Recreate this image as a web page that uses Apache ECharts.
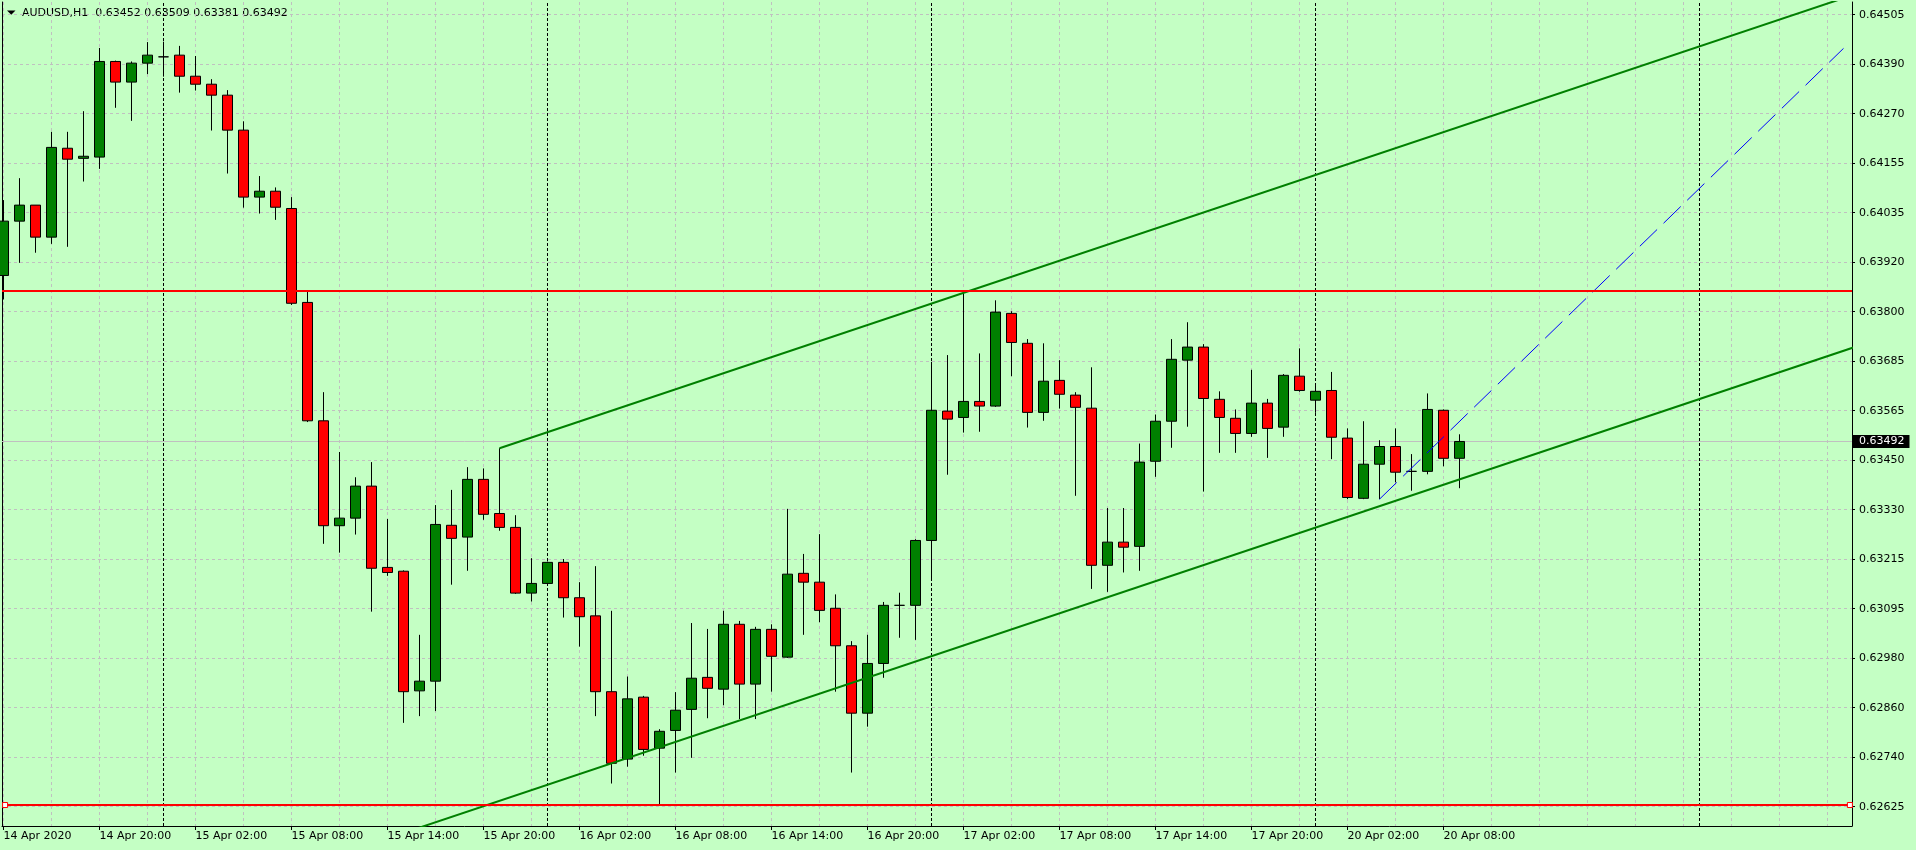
<!DOCTYPE html>
<html>
<head>
<meta charset="utf-8">
<script src="https://cdn.jsdelivr.net/npm/echarts@6/dist/echarts.min.js"></script>
<style>
html,body{margin:0;padding:0;background:#C4FFC4;}
#c{width:1916px;height:850px;}
</style>
</head>
<body>
<div id="c"></div>
<script>
// ---------------- data (H1 bars, index 0 = 14 Apr 2020 14:00) ----------------
const symbolName = 'AUDUSD,H1';
const open  = [0.63886,0.64015,0.64053,0.63977,0.64188,0.64164,0.64167,0.64394,0.64345,0.64390,
               0.64405,0.64409,0.64359,0.64340,0.64314,0.64231,0.64072,0.64086,0.64045,0.63822,
               0.63541,0.63292,0.63310,0.63386,0.63193,0.63184,0.62900,0.62923,0.63293,0.63265,
               0.63402,0.63321,0.63288,0.63132,0.63155,0.63205,0.63121,0.63078,0.62898,0.62738,
               0.62885,0.62764,0.62806,0.62856,0.62932,0.62904,0.63058,0.62916,0.63046,0.62980,
               0.63179,0.63158,0.63096,0.63007,0.62847,0.62965,0.63103,0.63103,0.63257,0.63564,
               0.63549,0.63587,0.63576,0.63796,0.63725,0.63561,0.63637,0.63602,0.63571,0.63198,
               0.63253,0.63243,0.63445,0.63540,0.63685,0.63716,0.63592,0.63547,0.63511,0.63583,
               0.63526,0.63647,0.63590,0.63613,0.63500,0.63357,0.63438,0.63480,0.63421,0.63421,
               0.63566,0.63452];
const high  = [0.64065,0.64117,0.64053,0.64227,0.64227,0.64276,0.64426,0.64396,0.64394,0.64440,
               0.64441,0.64431,0.64407,0.64352,0.64326,0.64252,0.64122,0.64095,0.64072,0.63848,
               0.63609,0.63467,0.63407,0.63443,0.63308,0.63186,0.63033,0.63341,0.63377,0.63431,
               0.63428,0.63476,0.63317,0.63215,0.63207,0.63213,0.63158,0.63196,0.63090,0.62934,
               0.62888,0.62809,0.62897,0.63061,0.63047,0.63090,0.63066,0.63052,0.63058,0.63332,
               0.63225,0.63272,0.63129,0.63018,0.63033,0.63111,0.63133,0.63260,0.63681,0.63697,
               0.63849,0.63701,0.63827,0.63801,0.63735,0.63725,0.63685,0.63609,0.63668,0.63334,
               0.63334,0.63487,0.63556,0.63735,0.63775,0.63723,0.63611,0.63568,0.63662,0.63593,
               0.63652,0.63713,0.63624,0.63657,0.63523,0.63540,0.63495,0.63523,0.63462,0.63606,
               0.63568,0.63509];
const low   = [0.63829,0.63916,0.63940,0.63961,0.63954,0.64109,0.64139,0.64284,0.64253,0.64364,
               0.64358,0.64320,0.64325,0.64230,0.64128,0.64047,0.64033,0.64018,0.63816,0.63538,
               0.63249,0.63228,0.63271,0.63088,0.63173,0.62824,0.62840,0.62852,0.63152,0.63185,
               0.63306,0.63280,0.63130,0.63112,0.63150,0.63074,0.63005,0.62840,0.62680,0.62720,
               0.62746,0.62629,0.62706,0.62741,0.62835,0.62866,0.62833,0.62833,0.62898,0.62978,
               0.63033,0.63063,0.62898,0.62706,0.62815,0.62931,0.63026,0.63021,0.63162,0.63413,
               0.63513,0.63515,0.63574,0.63647,0.63525,0.63541,0.63570,0.63363,0.63142,0.63135,
               0.63181,0.63185,0.63408,0.63477,0.63527,0.63373,0.63465,0.63465,0.63503,0.63453,
               0.63503,0.63610,0.63560,0.63450,0.63355,0.63355,0.63355,0.63395,0.63375,0.63414,
               0.63433,0.63381];
const close = [0.64015,0.64053,0.63977,0.64190,0.64162,0.64169,0.64394,0.64345,0.64390,0.64409,
               0.64405,0.64359,0.64340,0.64314,0.64231,0.64072,0.64086,0.64048,0.63820,0.63541,
               0.63292,0.63310,0.63386,0.63191,0.63181,0.62898,0.62923,0.63295,0.63262,0.63402,
               0.63319,0.63288,0.63132,0.63155,0.63205,0.63121,0.63076,0.62898,0.62728,0.62881,
               0.62761,0.62804,0.62854,0.62930,0.62906,0.63058,0.62916,0.63046,0.62982,0.63177,
               0.63158,0.63091,0.63007,0.62847,0.62965,0.63103,0.63103,0.63257,0.63566,0.63545,
               0.63587,0.63576,0.63799,0.63727,0.63561,0.63635,0.63604,0.63573,0.63198,0.63253,
               0.63241,0.63443,0.63540,0.63687,0.63716,0.63594,0.63549,0.63511,0.63583,0.63523,
               0.63649,0.63613,0.63611,0.63502,0.63359,0.63438,0.63480,0.63419,0.63421,0.63568,
               0.63452,0.63492];

// time axis labels (bar index -> text)
const xLabelBars = [0,6,12,18,24,30,36,42,48,54,60,66,72,78,84,90];
const xLabels = ['14 Apr 2020','14 Apr 20:00','15 Apr 02:00','15 Apr 08:00','15 Apr 14:00',
                 '15 Apr 20:00','16 Apr 02:00','16 Apr 08:00','16 Apr 14:00','16 Apr 20:00',
                 '17 Apr 02:00','17 Apr 08:00','17 Apr 14:00','17 Apr 20:00','20 Apr 02:00',
                 '20 Apr 08:00'];
const dayBreakBars = [10,34,58,82,106];

// price axis ticks
const yTickValues = [0.62625,0.627425,0.6286,0.629775,0.63095,0.632125,0.6333,0.634475,0.63565,
                     0.636825,0.638,0.639175,0.64035,0.641525,0.6427,0.643875,0.64505];
const yTickLabels = ['0.62625','0.62740','0.62860','0.62980','0.63095','0.63215','0.63330','0.63450',
                     '0.63565','0.63685','0.63800','0.63920','0.64035','0.64155','0.64270','0.64390','0.64505'];

// drawn objects
const resistanceLevel = 0.63850;
const supportLevel = 0.62629;
const supportHandleBars = [0.1, 115.4];
const upperChannel = [[31,0.63476],[116,0.64557]];
const lowerChannel = [[20,0.62499],[116,0.63720]];
const blueTrend = [[86,0.63355],[115,0.64425]];

// ---------------- chart ----------------
const FONT = 'DejaVu Sans';
const X_MIN = -0.09375, X_MAX = 115.53125;
const Y_MIN = 0.6257919, Y_MAX = 0.6453515;
const gridLine = {color:'#C0C0C0', type:[3,3], width:1};

const xGridBars = [];
for (let k = 0; k <= 114; k += 3) xGridBars.push(k);

const candles = open.map((o, i) => [i, o, close[i], low[i], high[i]]);
const last = candles.length - 1;
const bid = close[last];
const titleText = symbolName + '  ' + [open[last], high[last], low[last], close[last]].map(v => v.toFixed(5)).join(' ');

const chart = echarts.init(document.getElementById('c'), null, {renderer:'canvas', width:1916, height:850});

const option = {
  backgroundColor: '#C4FFC4',
  animation: false,
  grid: {left: 2, right: 64, top: 2, bottom: 24, outerBoundsMode: 'none'},
  xAxis: [
    {type:'value', min:X_MIN, max:X_MAX, position:'bottom',
     axisLine:{show:false, onZero:false},
     axisTick:{show:false, customValues:xGridBars},
     axisLabel:{show:false},
     splitLine:{show:true, lineStyle:gridLine}},
    {type:'value', min:X_MIN, max:X_MAX, position:'bottom',
     axisLine:{show:true, onZero:false, lineStyle:{color:'#000', width:1}},
     axisTick:{show:true, customValues:xLabelBars, length:4, lineStyle:{color:'#000'}},
     axisLabel:{show:true, customValues:xLabelBars, align:'left', margin:5,
       color:'#000', fontFamily:FONT, fontSize:11,
       formatter: v => { const i = xLabelBars.indexOf(Math.round(v)); return i >= 0 ? xLabels[i] : ''; }},
     splitLine:{show:false}}
  ],
  yAxis: [
    {type:'value', min:Y_MIN, max:Y_MAX, position:'right',
     axisLine:{show:true, onZero:false, lineStyle:{color:'#000', width:1}},
     axisTick:{show:true, customValues:yTickValues, length:3, lineStyle:{color:'#000'}},
     axisLabel:{show:true, customValues:yTickValues, margin:7, color:'#000', fontFamily:FONT, fontSize:11,
       formatter: v => { const i = yTickValues.findIndex(t => Math.abs(t - v) < 1e-7); return i >= 0 ? yTickLabels[i] : ''; }},
     splitLine:{show:true, lineStyle:gridLine}},
    {type:'value', min:Y_MIN, max:Y_MAX, position:'left',
     axisLine:{show:true, onZero:false, lineStyle:{color:'#000', width:1}},
     axisTick:{show:false}, axisLabel:{show:false}, splitLine:{show:false}}
  ],
  graphic: [
    {type:'polygon', shape:{points:[[7,10.5],[15.5,10.5],[11.25,14.7]]}, style:{fill:'#000'}, silent:true},
    {type:'text', x:22, y:13.5, silent:true,
     style:{text:titleText, fill:'#000', font:'11px "DejaVu Sans"', align:'left', verticalAlign:'middle'}}
  ],
  series: [
    {
      name:'back', type:'line', data:[], z:1, silent:true, clip:false,
      markLine:{
        z:1, silent:true, animation:false, precision:6, symbol:['none','none'],
        label:{show:false},
        data:[
          {yAxis: bid, lineStyle:{color:'#C0C0C0', type:'solid', width:1},
           label:{show:true, position:'end', distance:1, formatter: () => bid.toFixed(5),
                  color:'#fff', backgroundColor:'#000', padding:[1,5,1,6],
                  fontFamily:FONT, fontSize:11, lineHeight:11}}
        ].concat(dayBreakBars.map(k => ({xAxis:k, lineStyle:{color:'#000', type:[3,2], width:1}})))
      }
    },
    {
      name:'AUDUSD', type:'candlestick', data:candles, z:2, silent:true,
      barWidth:10,
      itemStyle:{color:'#008000', color0:'#FF0000', borderColor:'#000', borderColor0:'#000',
                 borderColorDoji:'#000', borderWidth:1}
    },
    {name:'upper', type:'line', data:upperChannel, z:3, silent:true, showSymbol:false, symbol:'none',
     lineStyle:{color:'#008000', width:2}},
    {name:'lower', type:'line', data:lowerChannel, z:3, silent:true, showSymbol:false, symbol:'none',
     lineStyle:{color:'#008000', width:2}},
    {name:'trend', type:'line', data:blueTrend, z:3, silent:true, showSymbol:false, symbol:'none',
     lineStyle:{color:'#0000FF', width:1, type:[24,9]}},
    {
      name:'levels', type:'line', data:[], z:4, silent:true, clip:false,
      markLine:{
        z:5, silent:true, animation:false, precision:6, symbol:['none','none'], label:{show:false},
        lineStyle:{color:'#FF0000', type:'solid', width:2},
        data:[{yAxis:resistanceLevel},{yAxis:supportLevel}]
      }
    },
    {name:'handles', type:'scatter', z:6, silent:true, symbol:'rect', symbolSize:5,
     data: supportHandleBars.map(k => [k, supportLevel]),
     itemStyle:{color:'#FFFFFF', borderColor:'#FF0000', borderWidth:1, opacity:1}}
  ]
};
chart.setOption(option);
</script>
</body>
</html>
